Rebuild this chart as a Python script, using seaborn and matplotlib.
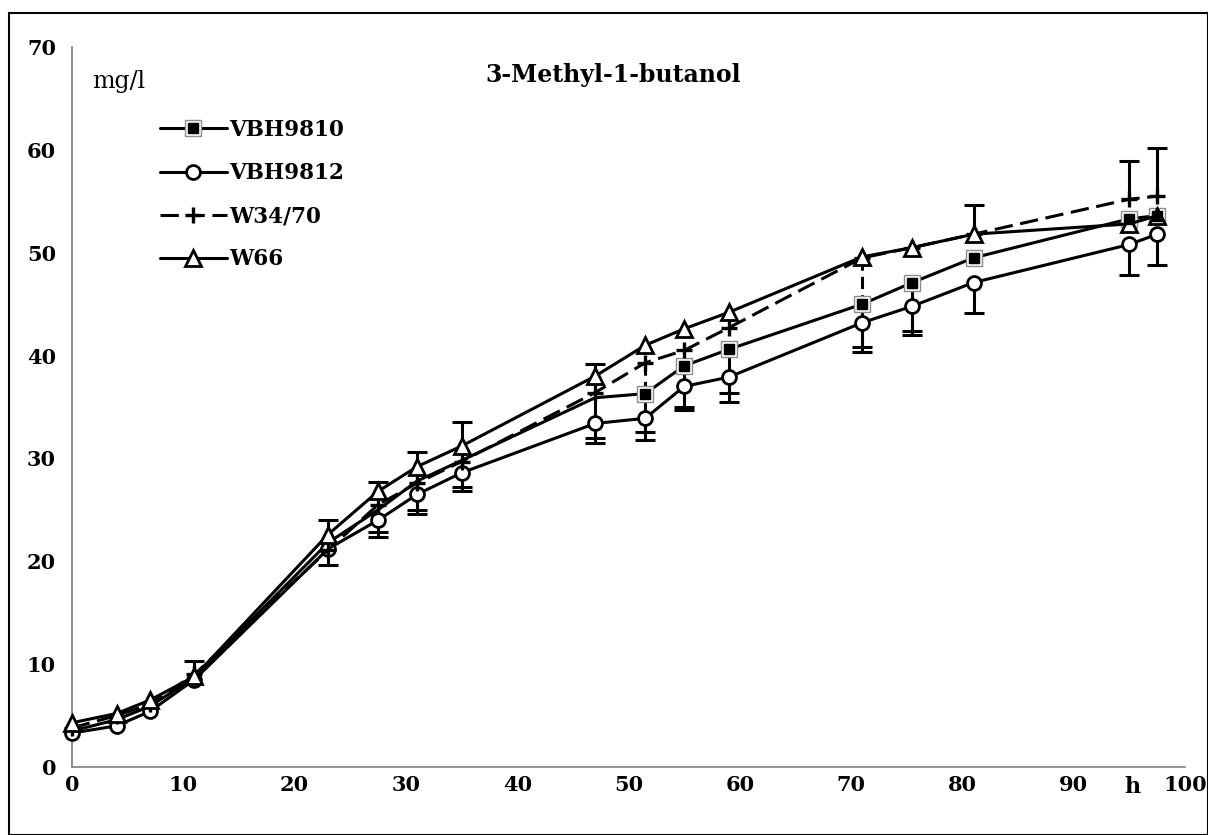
import matplotlib
matplotlib.use("Agg")
import matplotlib.pyplot as plt
import seaborn as sns
from matplotlib.lines import Line2D
from matplotlib.patches import Rectangle
from matplotlib.legend_handler import HandlerTuple

# Fermentation time (h)
hours = [0, 4, 7, 11, 23, 27.5, 31, 35, 47, 51.5, 55, 59, 71, 75.5, 81, 95, 97.5]

# 3-Methyl-1-butanol concentration (mg/l) per yeast strain
vbh9810 = [3.5, 4.6, 5.9, 8.7, 21.8, 25.0, 27.8, 29.8, 35.9, 36.3, 39.0, 40.6, 45.0, 47.1, 49.5, 53.3, 53.6]
vbh9812 = [3.3, 4.0, 5.4, 8.5, 21.2, 24.0, 26.5, 28.6, 33.4, 33.9, 37.0, 37.9, 43.2, 44.8, 47.1, 50.8, 51.8]
w3470 = [3.8, 5.0, 6.1, 9.0, 21.1, 25.5, 27.6, 29.7, 36.4, 39.3, 40.5, 42.7, 49.5, 50.5, 51.8, 55.2, 55.5]
w66 = [4.3, 5.2, 6.5, 8.8, 22.6, 26.8, 29.2, 31.2, 38.0, 41.0, 42.6, 44.2, 49.6, 50.5, 51.8, 52.8, 53.6]

# One-sided error bars (0 = none drawn)
w66_err_up = [0, 0, 0, 1.5, 1.4, 0.9, 1.4, 2.3, 1.2, 0, 0, 0, 0, 0, 2.8, 0, 0]
w3470_err_up = [0, 0, 0, 0, 0, 0, 0, 0, 0, 0, 0, 0, 0, 0, 0, 3.7, 4.7]
w3470_err_dn = [0, 0, 0, 0, 0, 0, 0, 0, 0, 3.0, 1.5, 0, 4.2, 0, 0, 0, 0]
vbh9812_err_dn = [0, 0, 0, 0, 1.6, 1.2, 1.5, 1.4, 1.4, 1.3, 2.0, 1.5, 2.4, 2.4, 3.0, 3.0, 3.0]
vbh9810_err_dn = [0, 0, 0, 0, 0, 2.6, 3.2, 3.0, 4.4, 4.5, 4.3, 5.1, 4.7, 5.1, 0, 0, 0]

labels = ["VBH9810", "VBH9812", "W34/70", "W66"]

sns.set_theme(style="white")
plt.rcParams["font.family"] = ["DejaVu Serif"]
plt.rcParams["text.color"] = "black"

W, H = 1208, 835
fig = plt.figure(figsize=(W / 100, H / 100), dpi=100)
ax = fig.add_axes([72 / W, 1 - 767 / H, (1185 - 72) / W, (767 - 47) / H])

LW = 2.2
CAP = 15


def error_bars(x, y, err, sign, dashed=False):
    for xi, yi, ei in zip(x, y, err):
        if ei <= 0:
            continue
        y2 = yi + sign * ei
        ax.vlines(xi, yi, y2, colors="black", lw=LW, zorder=2,
                  linestyles=(0, (4, 2)) if dashed else "solid")
        if not dashed:
            ax.plot([xi], [y2], marker="_", ms=CAP, mew=LW, color="black",
                    ls="none", zorder=2)


error_bars(hours, vbh9810, vbh9810_err_dn, -1)
error_bars(hours, vbh9812, vbh9812_err_dn, -1)
error_bars(hours, w3470, w3470_err_dn, -1, dashed=True)
error_bars(hours, w3470, w3470_err_up, +1)
error_bars(hours, w66, w66_err_up, +1)

common = dict(ax=ax, color="black", lw=LW, sort=False, errorbar=None, zorder=3,
              clip_on=False)

# VBH9810: black square framed in white and grey (markers shown from 51.5 h on)
sq_marks = list(range(9, len(hours)))
sns.lineplot(x=hours, y=vbh9810, marker="s", ms=11, markerfacecolor="white",
             markeredgecolor="#8c8c8c", markeredgewidth=1.0, markevery=sq_marks,
             **common)
ax.plot(hours, vbh9810, ls="none", marker="s", ms=7.5, color="black",
        markevery=sq_marks, zorder=3.1)

# VBH9812: open circle
sns.lineplot(x=hours, y=vbh9812, marker="o", ms=10, markerfacecolor="white",
             markeredgecolor="black", markeredgewidth=2.0, **common)

# W34/70: plus, dashed line
sns.lineplot(x=hours, y=w3470, marker="+", ms=12, markeredgewidth=2.4,
             markeredgecolor="black", linestyle=(0, (6, 2.5)), **common)

# W66: open triangle
sns.lineplot(x=hours, y=w66, marker="^", ms=12, markerfacecolor="white",
             markeredgecolor="black", markeredgewidth=2.0, **common)

ax.set_xlim(0, 100)
ax.set_ylim(0, 70)
ax.set_xticks(range(0, 101, 10))
ax.set_yticks(range(0, 71, 10))
ax.set_xlabel("")
ax.set_ylabel("")
for s in ("top", "right"):
    ax.spines[s].set_visible(False)
for s in ("left", "bottom"):
    ax.spines[s].set_color("#7f7f7f")
    ax.spines[s].set_linewidth(1.2)
ax.tick_params(axis="y", direction="inout", length=11, width=1.2, color="#7f7f7f",
               pad=6, labelsize=15, labelcolor="black")
ax.tick_params(axis="x", direction="inout", length=9, width=1.2, color="#7f7f7f",
               pad=1, labelsize=15, labelcolor="black")
for t in ax.get_xticklabels() + ax.get_yticklabels():
    t.set_fontweight("bold")

ax.text(48.6, 67.3, "3-Methyl-1-butanol", ha="center", va="center",
        fontsize=17, fontweight="bold")
ax.text(1.8, 66.6, "mg/l", ha="left", va="center", fontsize=17)
ax.text(95.3, -1.9, "h", ha="center", va="center", fontsize=16,
        fontweight="bold", clip_on=False)

# Legend
h_sq = (Line2D([], [], color="black", lw=LW, marker="s", ms=11, markerfacecolor="white",
               markeredgecolor="#8c8c8c", markeredgewidth=1.0),
        Line2D([], [], ls="none", marker="s", ms=7.5, color="black"))
h_ci = Line2D([], [], color="black", lw=LW, marker="o", ms=10, markerfacecolor="white",
              markeredgecolor="black", markeredgewidth=2.0)
h_pl = Line2D([], [], color="black", lw=LW, marker="+", ms=12, markeredgewidth=2.4,
              markeredgecolor="black", ls=(0, (6, 2.5)))
h_tr = Line2D([], [], color="black", lw=LW, marker="^", ms=12, markerfacecolor="white",
              markeredgecolor="black", markeredgewidth=2.0)
leg = ax.legend([h_sq, h_ci, h_pl, h_tr], labels, loc="upper left",
                bbox_to_anchor=(0.079, 0.900), frameon=False, borderpad=0,
                borderaxespad=0, handlelength=3.1, handletextpad=0.1,
                labelspacing=0.98, prop={"size": 15.5, "weight": "bold"},
                handler_map={tuple: HandlerTuple(ndivide=1)})

# Outer frame
fig.patches.append(Rectangle((9 / W, 0.5 / H), (W - 9.5) / W, (H - 13.5) / H,
                             transform=fig.transFigure, fill=False,
                             edgecolor="black", lw=1.5))

fig.savefig("out.png", dpi=100)
